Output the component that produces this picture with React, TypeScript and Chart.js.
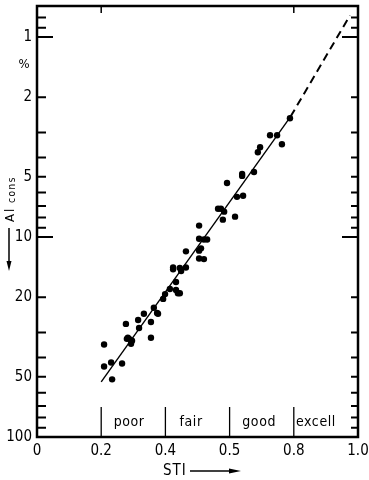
import React, { useEffect, useRef } from "react";
import { Chart, registerables } from "chart.js";

Chart.register(...registerables);

// ---- data ----
const stiValues = [
  0.209, 0.209, 0.231, 0.265, 0.234, 0.277, 0.283, 0.287, 0.28, 0.296,
  0.293, 0.315, 0.318, 0.333, 0.355, 0.355, 0.364, 0.377, 0.374, 0.393,
  0.399, 0.414, 0.433, 0.439, 0.445, 0.433, 0.424, 0.424, 0.445, 0.449,
  0.464, 0.464, 0.505, 0.52, 0.505, 0.511, 0.505, 0.52, 0.53, 0.505,
  0.579, 0.617, 0.564, 0.573, 0.583, 0.623, 0.642, 0.592, 0.639, 0.639,
  0.676, 0.688, 0.695, 0.726, 0.748, 0.763, 0.788,
];
const alconsValues = [
  34.5, 44.4, 42.4, 42.9, 51.5, 27.2, 31.9, 32.3, 32.3, 33.0,
  34.2, 26.0, 28.5, 24.2, 26.6, 31.9, 22.6, 24.2, 24.0, 20.4,
  19.3, 18.2, 18.4, 19.1, 19.1, 16.8, 14.2, 14.5, 14.3, 14.8,
  14.2, 11.8, 12.8, 12.9, 11.7, 11.4, 10.2, 10.3, 10.3, 8.77,
  8.19, 7.91, 7.22, 7.22, 7.47, 6.3, 6.22, 5.37, 4.84, 4.95,
  4.73, 3.77, 3.56, 3.1, 3.1, 3.44, 2.55,
];
const fitSolidSti = [0.2, 0.79];
const fitSolidAlcons = [53, 2.5];
const fitDashSti = [0.79, 0.975];
const fitDashAlcons = [2.5, 0.78];

const xTickValues = [0, 0.2, 0.4, 0.6, 0.8, 1.0];
const xTickLabels = ["0", "0.2", "0.4", "0.5", "0.8", "1.0"];
const yTickValues = [0.8, 0.9, 1, 2, 3, 4, 5, 6, 7, 8, 9, 10, 20, 30, 40, 50, 60, 70, 80, 90, 100];
const yLabelValues = [1, 2, 5, 10, 20, 50, 100];
const yMajorTicks = [1, 10];
const topTickValues = [0.2, 0.8];
const bandEdges = [0.2, 0.4, 0.6, 0.8];
const bandLabels = ["poor", "fair", "good", "excell"];
const bandLabelPos = [0.287, 0.48, 0.692, 0.869];

const FONT = '"Liberation Sans Narrow", "DejaVu Sans Condensed", sans-serif';

const decorations = {
  id: "decorations",
  afterDraw(chart: any) {
    const { ctx, chartArea: a } = chart;
    const x = chart.scales.x;
    const y = chart.scales.y;
    ctx.save();
    ctx.strokeStyle = "#000";
    ctx.fillStyle = "#000";
    ctx.lineCap = "butt";

    // y ticks (both sides, inward)
    ctx.lineWidth = 2;
    for (const v of yTickValues) {
      if (v >= 100) continue;
      const py = y.getPixelForValue(v);
      const major = yMajorTicks.includes(v);
      const lenL = major ? 16 : 9;
      const lenR = major ? 16 : 7;
      ctx.beginPath();
      ctx.moveTo(a.left, py);
      ctx.lineTo(a.left + lenL, py);
      ctx.moveTo(a.right - lenR, py);
      ctx.lineTo(a.right, py);
      ctx.stroke();
    }
    // top x ticks
    ctx.lineWidth = 1.5;
    for (const v of topTickValues) {
      const px = x.getPixelForValue(v);
      ctx.beginPath();
      ctx.moveTo(px, a.top);
      ctx.lineTo(px, a.top + 7);
      ctx.stroke();
    }
    // band separators
    ctx.lineWidth = 1.3;
    for (const v of bandEdges) {
      const px = x.getPixelForValue(v);
      ctx.beginPath();
      ctx.moveTo(px, a.bottom - 30);
      ctx.lineTo(px, a.bottom);
      ctx.stroke();
    }
    // band labels
    ctx.font = `14px ${FONT}`;
    (ctx as any).letterSpacing = "0.6px";
    ctx.textAlign = "center";
    ctx.textBaseline = "middle";
    bandLabels.forEach((t, i) => {
      ctx.fillText(t, x.getPixelForValue(bandLabelPos[i]), a.bottom - 15);
    });
    (ctx as any).letterSpacing = "0px";

    // frame
    ctx.lineWidth = 2.5;
    ctx.strokeRect(a.left, a.top, a.right - a.left, a.bottom - a.top);

    // percent sign
    ctx.font = `13px ${FONT}`;
    ctx.textAlign = "center";
    ctx.textBaseline = "middle";
    ctx.fillText("%", 24, 65);

    // rotated y-axis title with arrow
    ctx.save();
    ctx.translate(9, 250);
    ctx.rotate(-Math.PI / 2);
    ctx.lineWidth = 1.5;
    ctx.beginPath();
    ctx.moveTo(-14, 0);
    ctx.lineTo(22, 0);
    ctx.stroke();
    ctx.beginPath();
    ctx.moveTo(-21, 0);
    ctx.lineTo(-11, -2.5);
    ctx.lineTo(-11, 2.5);
    ctx.closePath();
    ctx.fill();
    ctx.textAlign = "left";
    ctx.textBaseline = "alphabetic";
    ctx.font = `13px ${FONT}`;
    (ctx as any).letterSpacing = "2px";
    ctx.fillText("Al", 28, 4.5);
    ctx.font = `10px ${FONT}`;
    (ctx as any).letterSpacing = "1.5px";
    ctx.fillText("cons", 47, 5.5);
    (ctx as any).letterSpacing = "0px";
    ctx.restore();

    // x-axis title with arrow
    ctx.font = `15px ${FONT}`;
    (ctx as any).letterSpacing = "1px";
    ctx.textAlign = "left";
    ctx.textBaseline = "middle";
    ctx.fillText("STI", 163, 471);
    (ctx as any).letterSpacing = "0px";
    ctx.lineWidth = 1.5;
    ctx.beginPath();
    ctx.moveTo(190, 471);
    ctx.lineTo(232, 471);
    ctx.stroke();
    ctx.beginPath();
    ctx.moveTo(241, 471);
    ctx.lineTo(229, 468.5);
    ctx.lineTo(229, 473.5);
    ctx.closePath();
    ctx.fill();

    ctx.restore();
  },
};

export default function App() {
  const canvasRef = useRef<HTMLCanvasElement | null>(null);

  useEffect(() => {
    document.body.style.margin = "0";
    const canvas = canvasRef.current;
    if (!canvas) return;
    const points = stiValues.map((v, i) => ({ x: v, y: alconsValues[i] }));
    const solid = fitSolidSti.map((v, i) => ({ x: v, y: fitSolidAlcons[i] }));
    const dashed = fitDashSti.map((v, i) => ({ x: v, y: fitDashAlcons[i] }));

    const chart = new Chart(canvas, {
      type: "scatter",
      data: {
        datasets: [
          {
            data: points,
            pointRadius: 3.2,
            pointBackgroundColor: "#000",
            pointBorderColor: "#000",
            pointBorderWidth: 0,
            showLine: false,
          },
          {
            data: solid,
            showLine: true,
            borderColor: "#000",
            borderWidth: 1.4,
            pointRadius: 0,
          },
          {
            data: dashed,
            showLine: true,
            borderColor: "#000",
            borderWidth: 2,
            borderDash: [8, 5],
            pointRadius: 0,
          },
        ],
      },
      plugins: [decorations],
      options: {
        animation: false,
        responsive: false,
        devicePixelRatio: 1,
        layout: { padding: { top: 6, right: 11, left: 0, bottom: 0 } },
        plugins: { legend: { display: false }, tooltip: { enabled: false } },
        scales: {
          x: {
            type: "linear",
            min: 0,
            max: 1,
            grid: { display: false, drawTicks: false },
            border: { display: false },
            afterBuildTicks: (scale: any) => {
              scale.ticks = xTickValues.map((v) => ({ value: v }));
            },
            afterFit: (scale: any) => {
              scale.height = 43;
              scale.paddingLeft = 0;
              scale.paddingRight = 0;
            },
            ticks: {
              autoSkip: false,
              maxRotation: 0,
              padding: 5,
              color: "#000",
              font: { family: FONT, size: 15 },
              callback: (_v: any, i: number) => xTickLabels[i],
            },
          },
          y: {
            type: "logarithmic",
            reverse: true,
            min: 0.72,
            max: 100,
            grid: { display: false, drawTicks: false },
            border: { display: false },
            afterBuildTicks: (scale: any) => {
              scale.ticks = yTickValues.map((v) => ({ value: v }));
            },
            afterFit: (scale: any) => {
              scale.width = 37;
              scale.paddingTop = 0;
              scale.paddingBottom = 0;
            },
            ticks: {
              autoSkip: false,
              padding: 5,
              color: "#000",
              font: { family: FONT, size: 15 },
              callback: (v: any) => (yLabelValues.includes(Number(v)) ? String(v) : ""),
            },
          },
        },
      },
    });
    return () => chart.destroy();
  }, []);

  return (
    <div style={{ width: 369, height: 480, background: "#fff" }}>
      <canvas ref={canvasRef} width={369} height={480} style={{ display: "block" }} />
    </div>
  );
}
